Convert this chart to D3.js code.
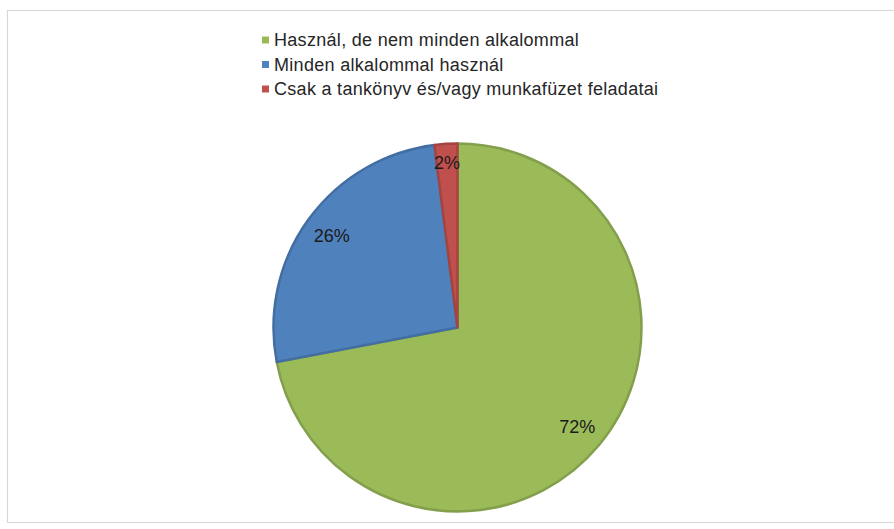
<!DOCTYPE html>
<html>
<head>
<meta charset="utf-8">
<script src="https://cdn.jsdelivr.net/npm/d3@7"></script>
<style>
  html, body { margin: 0; padding: 0; background: #ffffff; }
  svg { display: block; }
</style>
</head>
<body>
<svg id="chart" width="894" height="529"></svg>
<script>
// Answers to the survey question, share of respondents
const categories = [
  "Használ, de nem minden alkalommal",
  "Minden alkalommal használ",
  "Csak a tankönyv és/vagy munkafüzet feladatai"
];
const values = [72, 26, 2];
const colors = ["#9bbb59", "#4f81bd", "#c0504d"];

const svg = d3.select("#chart");
const W = 894, H = 529;
const font = "'Liberation Sans', Arial, sans-serif";

// chart area frame
svg.append("rect")
  .attr("x", 7.5).attr("y", 10.5)
  .attr("width", W + 10).attr("height", 512)
  .attr("fill", "#ffffff")
  .attr("stroke", "#d9d9d9")
  .attr("stroke-width", 1.2);

// legend
const legend = svg.append("g").attr("transform", "translate(262,40)");
const rows = legend.selectAll("g").data(categories).join("g")
  .attr("transform", (d, i) => `translate(0,${i * 24.5})`);
rows.append("rect")
  .attr("x", 0).attr("y", -3.5)
  .attr("width", 7).attr("height", 7)
  .attr("fill", (d, i) => colors[i]);
rows.append("text")
  .attr("x", 12).attr("y", 0)
  .attr("dy", "0.35em")
  .attr("font-family", font)
  .attr("font-size", 18)
  .attr("letter-spacing", "0.3px")
  .attr("fill", "#262626")
  .text(d => d);

// pie
const cx = 457.5, cy = 327.5, R = 184;
const pie = d3.pie().sort(null).value(d => d);
const arcs = pie(values);
const arc = d3.arc().innerRadius(0).outerRadius(R);

const g = svg.append("g").attr("transform", `translate(${cx},${cy})`);
g.selectAll("path").data(arcs).join("path")
  .attr("d", arc)
  .attr("fill", (d, i) => colors[i])
  .attr("stroke", (d, i) => d3.color(colors[i]).darker(0.45))
  .attr("stroke-width", 2.5)
  .attr("stroke-linejoin", "round");

// percentage labels
const total = d3.sum(values);
g.selectAll("text.pct").data(arcs).join("text")
  .attr("class", "pct")
  .attr("transform", d => {
    const share = d.data / total;
    const r = share < 0.05 ? R * 0.9 : R * 0.845;
    const a = (d.startAngle + d.endAngle) / 2;
    return `translate(${r * Math.sin(a)},${-r * Math.cos(a)})`;
  })
  .attr("text-anchor", "middle")
  .attr("dy", "0.35em")
  .attr("font-family", font)
  .attr("font-size", 18)
  .attr("fill", "#1a1a1a")
  .text(d => Math.round(d.data / total * 100) + "%");
</script>
</body>
</html>
